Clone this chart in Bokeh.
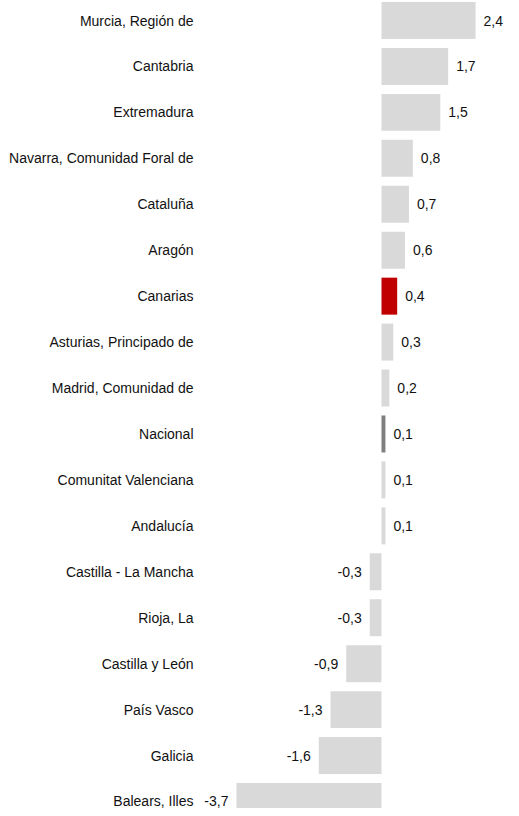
from bokeh.plotting import figure
from bokeh.models import ColumnDataSource, Range1d, FixedTicker
from bokeh.core.properties import value
from bokeh.embed import file_html
from bokeh.resources import INLINE

regions = ["Murcia, Región de", "Cantabria", "Extremadura", "Navarra, Comunidad Foral de",
           "Cataluña", "Aragón", "Canarias", "Asturias, Principado de", "Madrid, Comunidad de",
           "Nacional", "Comunitat Valenciana", "Andalucía", "Castilla - La Mancha", "Rioja, La",
           "Castilla y León", "País Vasco", "Galicia", "Balears, Illes"]
values = [2.4, 1.7, 1.5, 0.8, 0.7, 0.6, 0.4, 0.3, 0.2, 0.1, 0.1, 0.1, -0.3, -0.3, -0.9, -1.3, -1.6, -3.7]
highlight = {"Canarias": "#c00000", "Nacional": "#7f7f7f"}
base_color = "#d9d9d9"

FONT = "Liberation Sans"
TEXT_COLOR = "#111111"
n = len(regions)
ypos = [n - 1 - i for i in range(n)]  # top row first
colors = [highlight.get(r, base_color) for r in regions]
labels = [f"{v:.1f}".replace(".", ",") for v in values]
aligns = ["left" if v >= 0 else "right" for v in values]
offsets = [8 if v >= 0 else -8 for v in values]

src = ColumnDataSource(dict(y=ypos, region=regions, val=values, color=colors, label=labels,
                            align=aligns, xoff=offsets))

W, H = 511, 808
left_border = 202
px_per_unit = 39.2
zero_px = 179
pitch = 45.94
frame_w = W - left_border

p = figure(width=W, height=H, output_backend="svg", toolbar_location=None,
           y_range=Range1d(-7 / pitch, (n - 1) + 20 / pitch),
           x_range=Range1d(-zero_px / px_per_unit, (frame_w - zero_px) / px_per_unit),
           min_border_left=left_border, min_border_right=0, min_border_top=0, min_border_bottom=0)

p.hbar(y="y", right="val", left=0, height=0.805, color="color", line_color=None, source=src)
p.text(x="val", y="y", text="label", text_align="align", x_offset="xoff",
       text_baseline="middle", text_font=value(FONT), text_font_size="14px",
       text_color=TEXT_COLOR, source=src)

p.xaxis.visible = False
p.yaxis.ticker = FixedTicker(ticks=ypos)
p.yaxis.major_label_overrides = {y: r for y, r in zip(ypos, regions)}
p.yaxis.axis_line_color = None
p.yaxis.major_tick_line_color = None
p.yaxis.minor_tick_line_color = None
p.yaxis.major_tick_out = 0
p.yaxis.major_tick_in = 0
p.yaxis.major_label_standoff = 9
p.yaxis.major_label_text_font = FONT
p.yaxis.major_label_text_font_size = "14px"
p.yaxis.major_label_text_color = TEXT_COLOR
p.xgrid.visible = False
p.ygrid.visible = False
p.outline_line_color = None
p.background_fill_color = "white"
p.border_fill_color = "white"

open("out.html", "w").write(file_html(p, INLINE))
